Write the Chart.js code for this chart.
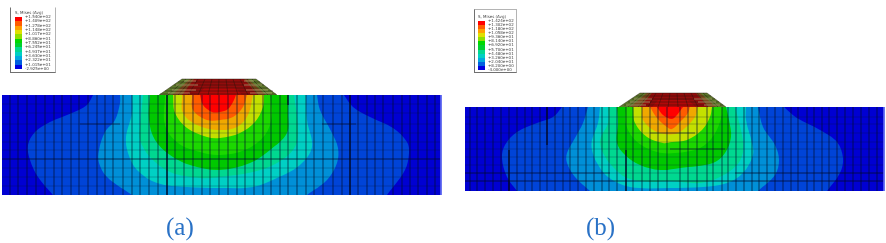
<!DOCTYPE html>
<html>
<head>
<meta charset="utf-8">
<title>Mises contours</title>
<script src="https://cdn.jsdelivr.net/npm/chart.js@4"></script>
<style>
  html, body { margin: 0; background: #fff; }
  #stage { position: relative; width: 886px; height: 243px; overflow: hidden; }
  #plot { position: absolute; left: 0; top: 0; filter: blur(0.5px); }
  .key { position: absolute; box-sizing: border-box; background: #fff; border: 1px solid #b4b4b4; border-left-color: #707070; border-bottom-color: #707070; filter: blur(0.4px); font: 4px/4px "DejaVu Sans", sans-serif; color: #444; }
  .key .name { position: absolute; white-space: nowrap; }
  .key .bar { position: absolute; display: flex; flex-direction: column; }
  .key .bar div { flex: 1; }
  .key .vals { position: absolute; display: flex; flex-direction: column; justify-content: space-between; }
  .caption { position: absolute; top: 213px; font: 25px "Liberation Serif", serif; color: #2a72c6; }
</style>
</head>
<body>
<div id="stage">
  <canvas id="plot" width="886" height="243"></canvas>
</div>
<script>
// contour band colours, lowest stress first
const bandColors = ['#0000d2', '#0044d8', '#0090d8', '#00d0c4', '#00d890', '#00c800', '#1cd800', '#c4e000', '#f0a800', '#ff5c00', '#ff0000'];
const keyColors = ['#ff0000', '#ff5c00', '#ffa000', '#e0e000', '#90e000', '#00d800', '#00d030', '#00d890', '#00d0c4', '#00a8e0', '#0060e0', '#0000e0'];

const keyValuesA = ['+1.540e+02', '+1.409e+02', '+1.278e+02', '+1.148e+02', '+1.017e+02', '+8.860e+01', '+7.552e+01', '+6.245e+01', '+4.937e+01', '+3.630e+01', '+2.322e+01', '+1.015e+01', '-2.925e+00'];
const keyValuesB = ['+1.424e+02', '+1.302e+02', '+1.180e+02', '+1.058e+02', '+9.360e+01', '+8.140e+01', '+6.920e+01', '+5.700e+01', '+4.480e+01', '+3.260e+01', '+2.040e+01', '+8.200e+00', '-4.000e+00'];

// panel (a) outlines
const plateA = [[2, 95], [441, 95], [441, 195], [2, 195]];
const bandsA = [
  [[93, 95], [87, 105], [72, 113], [50, 122], [35, 132], [28, 145], [30, 160], [38, 177], [53, 195], [387, 195], [405, 170], [409, 153], [407, 142], [393, 128], [370, 117], [353, 107], [344, 95]],
  [[120, 95], [120, 103], [115, 120], [105, 132], [99, 150], [99, 163], [107, 177], [132, 195], [307, 195], [327, 180], [337, 163], [338, 148], [332, 133], [320, 110], [317, 95]],
  [[132, 95], [132, 113], [126, 137], [128, 153], [137, 170], [157, 183], [187, 187], [220, 188], [253, 187], [277, 178], [300, 165], [312, 147], [307, 120], [306, 95]],
  [[143, 95], [140, 127], [140, 140], [150, 157], [170, 172], [200, 178], [220, 177], [253, 172], [277, 163], [295, 147], [298, 127], [294, 95]],
  [[150, 95], [149, 120], [155, 140], [170, 155], [190, 165], [220, 170], [250, 163], [270, 150], [287, 133], [288, 113], [288, 95]],
  [[165, 95], [165, 125], [178, 143], [200, 152], [220, 155], [245, 150], [265, 135], [272, 115], [270, 95]],
  [[173, 95], [175, 113], [187, 128], [207, 137], [220, 138], [240, 133], [255, 122], [263, 107], [264, 95]],
  [[182, 95], [183, 113], [197, 125], [217, 130], [237, 127], [248, 115], [253, 95]],
  [[192, 95], [193, 110], [207, 120], [220, 120], [233, 117], [243, 107], [247, 95]],
  [[200, 95], [203, 105], [212, 112], [220, 112], [228, 109], [233, 102], [236, 95]]
];
const bankA = [
  [[159, 95], [182, 79], [256, 79], [277, 95]],
  [[172, 95], [190, 79], [248, 79], [266, 95]],
  [[182, 95], [194, 79], [244, 79], [258, 95]],
  [[198, 95], [204, 88], [236, 88], [242, 95]]
];
const meshXA = [10, 18, 27, 36, 45, 54, 62, 71, 79, 88, 97, 105, 113, 123, 132, 140, 149, 158, 167, 175, 184, 193, 202, 210, 219, 228, 237, 245, 254, 263, 271, 280, 288, 297, 306, 314, 323, 333, 342, 350, 358, 367, 375, 383, 393, 402, 410, 418, 427, 435];
const meshYA = [104, 113, 124, 133, 142, 150, 159, 168, 177, 186];
const strongA = [[2, 159, 441, 159], [80, 124, 120, 124], [322, 124, 356, 124], [167, 95, 167, 195], [288, 95, 288, 105], [350, 95, 350, 195]];
const hatchA = [[178, 82, 260, 82], [174, 85, 264, 85], [170, 88, 268, 88], [165, 91, 273, 91], [160, 94, 276, 94], [182, 79, 256, 79], [159, 95, 182, 79], [256, 79, 277, 95], [168, 95, 186, 79], [178, 95, 192, 79], [188, 95, 198, 79], [198, 95, 205, 79], [208, 95, 212, 79], [218, 95, 219, 79], [228, 95, 226, 79], [238, 95, 233, 79], [248, 95, 240, 79], [258, 95, 247, 79], [268, 95, 252, 79]];
const tanA = [[176, 85, 198, 85], [244, 85, 262, 85], [172, 90, 196, 90], [246, 90, 268, 90], [168, 93, 190, 93], [250, 93, 272, 93], [184, 81, 196, 81], [244, 81, 254, 81]];

// panel (b) outlines
const plateB = [[465, 107], [884, 107], [884, 191], [465, 191]];
const bandsB = [
  [[562, 107], [553, 117], [537, 123], [517, 132], [505, 145], [502, 158], [507, 177], [517, 191], [827, 191], [840, 173], [843, 158], [837, 142], [820, 130], [797, 118], [784, 107]],
  [[588, 107], [583, 123], [575, 138], [567, 153], [567, 163], [575, 177], [590, 191], [758, 191], [775, 175], [779, 160], [775, 145], [763, 127], [758, 107]],
  [[600, 107], [598, 123], [592, 140], [592, 150], [597, 163], [608, 177], [630, 187], [670, 188], [703, 187], [727, 183], [743, 173], [753, 155], [752, 143], [746, 120], [746, 107]],
  [[608, 107], [608, 123], [600, 140], [603, 153], [613, 167], [627, 178], [650, 182], [670, 181], [700, 183], [720, 177], [737, 165], [743, 152], [742, 135], [735, 107]],
  [[617, 107], [618, 123], [617, 143], [625, 155], [640, 165], [660, 170], [680, 168], [713, 163], [725, 153], [731, 137], [729, 120], [726, 107]],
  [[626, 107], [626, 125], [637, 142], [657, 152], [675, 153], [700, 148], [714, 135], [722, 115], [722, 107]],
  [[633, 107], [635, 123], [647, 137], [663, 143], [672, 142], [687, 140], [702, 130], [710, 117], [712, 107]],
  [[642, 107], [643, 120], [657, 132], [675, 134], [685, 128], [695, 117], [698, 107]],
  [[650, 107], [657, 118], [667, 127], [672, 129], [680, 122], [688, 113], [690, 107]],
  [[657, 107], [663, 115], [672, 119], [677, 115], [683, 107]]
];
const bankB = [
  [[619, 107], [640, 93], [707, 93], [726, 107]],
  [[630, 107], [647, 93], [700, 93], [716, 107]],
  [[640, 107], [652, 93], [696, 93], [708, 107]],
  [[652, 107], [658, 100], [688, 100], [696, 107]]
];
const meshXB = [470, 477, 485, 493, 501, 509, 517, 525, 532, 540, 547, 555, 563, 570, 578, 586, 594, 602, 609, 617, 626, 633, 642, 650, 658, 667, 680, 688, 697, 707, 713, 722, 728, 736, 744, 752, 759, 767, 775, 783, 791, 798, 807, 814, 822, 829, 837, 845, 853, 861, 869, 877];
const meshYB = [117, 124, 133, 142, 149, 157, 165, 173, 181];
const strongB = [[465, 173, 610, 173], [735, 173, 884, 173], [465, 181, 884, 181], [650, 133, 695, 133], [670, 149, 725, 149], [509, 150, 509, 191], [547, 107, 547, 145], [626, 150, 626, 191]];
const hatchB = [[636, 96, 711, 96], [632, 99, 715, 99], [628, 102, 719, 102], [624, 105, 723, 105], [640, 93, 707, 93], [619, 107, 640, 93], [707, 93, 726, 107], [628, 107, 644, 93], [638, 107, 650, 93], [648, 107, 656, 93], [658, 107, 663, 93], [668, 107, 670, 93], [678, 107, 677, 93], [688, 107, 684, 93], [698, 107, 691, 93], [708, 107, 697, 93], [718, 107, 703, 93]];
const tanB = [[634, 99, 652, 99], [694, 99, 712, 99], [630, 102, 650, 102], [698, 102, 716, 102], [626, 105, 646, 105], [704, 105, 720, 105]];

const bankColors = ['#5e7a2c', '#7c4a1e', '#920c0c', '#b00808'];

function outline(points) {
  return points.map(p => ({ x: p[0], y: p[1] }));
}

// flat list with gaps, so one dataset can hold many separate strokes
function strokes(segments) {
  const out = [];
  segments.forEach(s => {
    out.push({ x: s[0], y: s[1] }, { x: s[2], y: s[3] }, { x: NaN, y: NaN });
  });
  return out;
}

function meshSegments(xs, ys, left, right, top, bottom) {
  const segs = [];
  xs.forEach(x => segs.push([x, top, x, bottom]));
  ys.forEach(y => segs.push([left, y, right, y]));
  return segs;
}

function shape(points, color, tension) {
  return { type: 'scatter', showLine: true, data: outline(points), fill: 'shape', backgroundColor: color, borderWidth: 0, pointRadius: 0, tension: tension };
}

function stroke(segments, color, width) {
  return { type: 'scatter', showLine: true, data: strokes(segments), fill: false, borderColor: color, borderWidth: width, pointRadius: 0, spanGaps: false };
}

function panelDatasets(plate, bands, bank, meshX, meshY, strong, hatch, tan) {
  const list = [];
  const left = plate[0][0], right = plate[1][0], top = plate[0][1], bottom = plate[2][1];
  list.push(shape(plate, bandColors[0], 0));
  // doubling the points on the bottom edge keeps the spline from bulging past the plate
  bands.forEach((b, i) => {
    const pts = b.flatMap(p => (p[1] === bottom ? [p, p] : [p]));
    list.push(shape(pts, bandColors[i + 1], 0.35));
  });
  bank.forEach((b, i) => list.push(shape(b, bankColors[i], 0)));
  list.push(stroke(meshSegments(meshX, meshY, left, right, top, bottom), 'rgba(0, 20, 50, 0.38)', 0.7));
  list.push(stroke(strong, 'rgba(0, 10, 40, 0.6)', 0.9));
  list.push(stroke([[right, top, right, bottom]], '#5a64f0', 1));
  list.push(stroke(hatch, 'rgba(30, 20, 10, 0.6)', 0.7));
  list.push(stroke(tan, 'rgba(225, 205, 150, 0.6)', 0.9));
  return list;
}

const datasets = panelDatasets(plateA, bandsA, bankA, meshXA, meshYA, strongA, hatchA, tanA)
  .concat(panelDatasets(plateB, bandsB, bankB, meshXB, meshYB, strongB, hatchB, tanB));

// later entries sit on top
datasets.forEach((d, i) => { d.order = -i; });

new Chart(document.getElementById('plot'), {
  type: 'scatter',
  data: { datasets: datasets },
  options: {
    responsive: false,
    animation: false,
    layout: { padding: 0 },
    plugins: { legend: { display: false }, tooltip: { enabled: false }, title: { display: false } },
    scales: {
      x: { type: 'linear', min: 0, max: 886, display: false },
      y: { type: 'linear', min: 0, max: 243, reverse: true, display: false }
    }
  }
});

// contour key boxes and the (a)/(b) captions are plain page text
function addKey(box, values) {
  const stage = document.getElementById('stage');
  const key = document.createElement('div');
  key.className = 'key';
  key.style.cssText = `left:${box.left}px;top:${box.top}px;width:${box.width}px;height:${box.height}px;${box.noTop ? 'border-top-color:#fff;' : ''}`;
  const bars = keyColors.map(c => `<div style="background:${c}"></div>`).join('');
  const vals = values.map(v => `<span>${v}</span>`).join('');
  key.innerHTML = `
    <span class="name" style="left:${box.barLeft}px;top:${box.barTop - 6}px">S, Mises (Avg)</span>
    <div class="bar" style="left:${box.barLeft}px;top:${box.barTop}px;width:${box.barWidth}px;height:${box.barHeight}px">${bars}</div>
    <div class="vals" style="left:${box.barLeft + box.barWidth + 3}px;top:${box.barTop - 2}px;height:${box.barHeight + 4}px">${vals}</div>
  `;
  stage.appendChild(key);
}

function addCaption(text, left) {
  const el = document.createElement('div');
  el.className = 'caption';
  el.style.left = left + 'px';
  el.textContent = text;
  document.getElementById('stage').appendChild(el);
}

addKey({ left: 10, top: 7, width: 46, height: 66, barLeft: 4, barTop: 9, barWidth: 7, barHeight: 52, noTop: true }, keyValuesA);
addKey({ left: 474, top: 9, width: 43, height: 64, barLeft: 3, barTop: 11, barWidth: 7, barHeight: 49 }, keyValuesB);
addCaption('(a)', 166);
addCaption('(b)', 586);
</script>
</body>
</html>
